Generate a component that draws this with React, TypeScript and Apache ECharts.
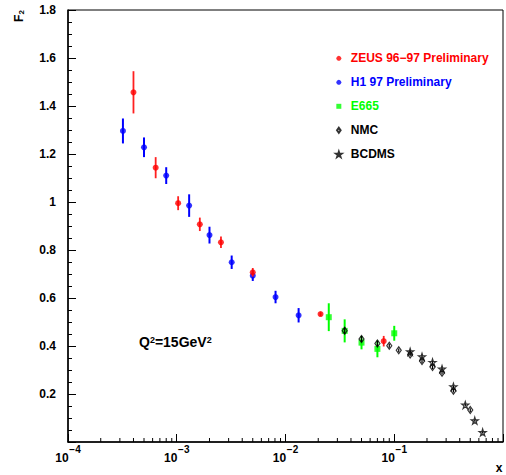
import React, { useEffect, useRef } from "react";
import * as echarts from "echarts";

const FONT = '"Liberation Sans", Arial, Helvetica, sans-serif';

// ZEUS 96-97 preliminary
const zeusX = [4.0e-4, 6.4e-4, 1.03e-3, 1.63e-3, 2.55e-3, 5.0e-3, 2.1e-2, 8.0e-2];
const zeusF2 = [1.457, 1.143, 0.995, 0.907, 0.832, 0.707, 0.533, 0.42];
const zeusErr = [0.088, 0.044, 0.029, 0.028, 0.024, 0.018, 0.008, 0.022];

// H1 97 preliminary
const h1X = [3.2e-4, 5.0e-4, 8.0e-4, 1.3e-3, 2.0e-3, 3.2e-3, 5.0e-3, 8.1e-3, 1.32e-2];
const h1F2 = [1.296, 1.228, 1.11, 0.985, 0.862, 0.749, 0.693, 0.604, 0.528];
const h1Err = [0.052, 0.041, 0.035, 0.047, 0.035, 0.028, 0.022, 0.026, 0.03];

// E665
const e665X = [0.025, 0.035, 0.05, 0.07, 0.1];
const e665F2 = [0.52, 0.463, 0.414, 0.388, 0.453];
const e665Err = [0.058, 0.048, 0.028, 0.035, 0.031];

// NMC
const nmcX = [0.035, 0.05, 0.07, 0.09, 0.11, 0.14, 0.18, 0.225, 0.275, 0.35, 0.5];
const nmcF2 = [0.464, 0.429, 0.41, 0.401, 0.382, 0.365, 0.337, 0.312, 0.289, 0.214, 0.133];
const nmcErr = [0.014, 0.013, 0.012, 0.008, 0.008, 0.008, 0.008, 0.008, 0.008, 0.008, 0.008];

// BCDMS
const bcdmsX = [0.14, 0.18, 0.225, 0.275, 0.35, 0.45, 0.55, 0.65];
const bcdmsF2 = [0.376, 0.355, 0.332, 0.304, 0.23, 0.154, 0.089, 0.04];
const bcdmsErr = [0.005, 0.005, 0.005, 0.005, 0.005, 0.005, 0.005, 0.005];

// Log-axis minor ticks: 2..9 in every decade
const xDecades = [1e-4, 1e-3, 1e-2, 1e-1];
const minorSteps = [2, 3, 4, 5, 6, 7, 8, 9];

const SERIES_NAMES = {
  zeus: "ZEUS 96−97 Preliminary",
  h1: "H1 97 Preliminary",
  e665: "E665",
  nmc: "NMC",
  bcdms: "BCDMS",
};

const STAR =
  "path://M50,0 L61.2,34.5 L97.6,34.5 L68.2,55.9 L79.4,90.5 L50,69.1 L20.6,90.5 L31.8,55.9 L2.4,34.5 L38.8,34.5 Z";
const SQUARE = "path://M0,0 H10 V10 H0 Z";
const DIAMOND = "path://M5,0 L10,7 L5,14 L0,7 Z";

function errorBars(xs: number[], ys: number[], es: number[], color: string, width: number, z: number) {
  return {
    type: "custom",
    silent: true,
    z,
    data: xs.map((x, i) => [x, ys[i], es[i]]),
    encode: { x: 0, y: 1 },
    renderItem: (_params: any, api: any) => {
      const x = api.value(0);
      const y = api.value(1);
      const e = api.value(2);
      const lo = api.coord([x, y - e]);
      const hi = api.coord([x, y + e]);
      return {
        type: "line",
        shape: { x1: lo[0], y1: lo[1], x2: hi[0], y2: hi[1] },
        style: { stroke: color, lineWidth: width },
      };
    },
  };
}

function points(name: string, xs: number[], ys: number[], symbol: string, size: any, itemStyle: any, z: number) {
  return {
    type: "scatter",
    name,
    z,
    symbol,
    symbolSize: size,
    itemStyle,
    data: xs.map((x, i) => [x, ys[i]]),
  };
}

export default function App() {
  const ref = useRef<HTMLDivElement>(null);

  useEffect(() => {
    if (!ref.current) return;
    const chart = echarts.init(ref.current, null, { renderer: "svg" });

    const minorTickData: number[][] = [];
    xDecades.forEach((d) => minorSteps.forEach((m) => minorTickData.push([d * m, 0])));

    const option: any = {
      animation: false,
      backgroundColor: "#fff",
      textStyle: { fontFamily: FONT },
      grid: {
        left: 68,
        right: 3,
        top: 10,
        bottom: 33,
        show: true,
        borderColor: "#000",
        borderWidth: 1,
      },
      xAxis: {
        type: "log",
        logBase: 10,
        min: 1e-4,
        max: 1,
        axisLine: { lineStyle: { color: "#000", width: 1.5 } },
        axisTick: { inside: true, length: 8, lineStyle: { color: "#000" } },
        splitLine: { show: false },
        axisLabel: {
          margin: 4,
          color: "#000",
          align: "center",
          formatter: (v: number) => {
            if (v >= 1) return "";
            const e = Math.round(Math.log10(v));
            // exponent on a raised first line, base "10" on the second
            return `{e|${e < 0 ? "−" : ""}${Math.abs(e)}}\n{b|10}`;
          },
          rich: {
            b: {
              fontFamily: FONT,
              fontWeight: "bold",
              fontSize: 12,
              lineHeight: 12,
              padding: [0, 12, 0, 0],
              color: "#000",
            },
            e: {
              fontFamily: FONT,
              fontWeight: "bold",
              fontSize: 10,
              lineHeight: 6,
              padding: [0, 0, 0, 14],
              color: "#000",
            },
          },
        },
      },
      yAxis: {
        type: "value",
        min: 0,
        max: 1.8,
        interval: 0.2,
        axisLine: { show: true, lineStyle: { color: "#000", width: 1.5 } },
        axisTick: { show: true, inside: true, length: 8, lineStyle: { color: "#000" } },
        minorTick: { show: true, splitNumber: 4, length: 4, lineStyle: { color: "#000" } },
        splitLine: { show: false },
        axisLabel: {
          margin: 12,
          color: "#000",
          fontFamily: FONT,
          fontWeight: "bold",
          fontSize: 12,
          formatter: (v: number) => (v === 0 ? "" : String(Math.round(v * 10) / 10)),
        },
      },
      legend: {
        orient: "vertical",
        left: 333.7,
        top: 51.3,
        padding: 0,
        itemWidth: 14,
        itemHeight: 5,
        itemGap: 10,
        selectedMode: false,
        textStyle: { fontFamily: FONT, fontWeight: "bold", fontSize: 12, lineHeight: 14 },
        data: [
          { name: SERIES_NAMES.zeus, textStyle: { color: "#ff0000" } },
          { name: SERIES_NAMES.h1, textStyle: { color: "#0000ff" } },
          { name: SERIES_NAMES.e665, textStyle: { color: "#00ff00" } },
          { name: SERIES_NAMES.nmc, textStyle: { color: "#000" } },
          { name: SERIES_NAMES.bcdms, textStyle: { color: "#000" } },
        ],
      },
      graphic: [
        {
          type: "text",
          x: 19,
          y: 16,
          rotation: Math.PI / 2,
          style: {
            text: "{b|F}{s|2}",
            align: "center",
            verticalAlign: "middle",
            rich: {
              b: { fontFamily: FONT, fontWeight: "bold", fontSize: 12, lineHeight: 12, verticalAlign: "top", fill: "#000" },
              s: { fontFamily: FONT, fontWeight: "bold", fontSize: 8, lineHeight: 8, padding: [6, 0, 0, 0], verticalAlign: "bottom", fill: "#000" },
            },
          },
        },
        {
          type: "text",
          x: 499,
          y: 467.5,
          style: {
            text: "x",
            align: "center",
            verticalAlign: "middle",
            fontFamily: FONT,
            fontWeight: "bold",
            fontSize: 12,
            fill: "#000",
          },
        },
        {
          type: "text",
          x: 139,
          y: 342,
          style: {
            text: "{b|Q}{s|2}{b|=15GeV}{s|2}",
            align: "left",
            verticalAlign: "middle",
            rich: {
              b: { fontFamily: FONT, fontWeight: "bold", fontSize: 14, lineHeight: 14, padding: [4, 0, 0, 0], verticalAlign: "bottom", fill: "#000" },
              s: { fontFamily: FONT, fontWeight: "bold", fontSize: 9, lineHeight: 9, verticalAlign: "top", fill: "#000" },
            },
          },
        },
      ],
      series: [
        errorBars(h1X, h1F2, h1Err, "#0000ff", 2, 2),
        points(SERIES_NAMES.h1, h1X, h1F2, "circle", 6, { color: "#0000ff" }, 3),
        errorBars(zeusX, zeusF2, zeusErr, "#ff2020", 1.8, 4),
        points(SERIES_NAMES.zeus, zeusX, zeusF2, "circle", 6, { color: "#ff0000" }, 5),
        errorBars(e665X, e665F2, e665Err, "#00ff00", 2, 6),
        points(SERIES_NAMES.e665, e665X, e665F2, SQUARE, 6, { color: "#00ff00" }, 7),
        errorBars(nmcX, nmcF2, nmcErr, "#000", 1.2, 8),
        points(SERIES_NAMES.nmc, nmcX, nmcF2, DIAMOND, [5, 7], { color: "none", borderColor: "#000", borderWidth: 1.2 }, 9),
        errorBars(bcdmsX, bcdmsF2, bcdmsErr, "#000", 1.2, 10),
        points(SERIES_NAMES.bcdms, bcdmsX, bcdmsF2, STAR, 7, { color: "none", borderColor: "#000", borderWidth: 1.2 }, 11),
        {
          type: "custom",
          silent: true,
          z: 12,
          data: minorTickData,
          encode: { x: 0, y: 1 },
          renderItem: (_params: any, api: any) => {
            const p = api.coord([api.value(0), api.value(1)]);
            return {
              type: "line",
              shape: { x1: p[0], y1: p[1], x2: p[0], y2: p[1] - 4 },
              style: { stroke: "#000", lineWidth: 1 },
            };
          },
        },
      ],
    };

    chart.setOption(option);
    return () => chart.dispose();
  }, []);

  return (
    <div
      ref={ref}
      style={{ position: "fixed", left: 0, top: 0, width: 506, height: 475, background: "#fff" }}
    />
  );
}
